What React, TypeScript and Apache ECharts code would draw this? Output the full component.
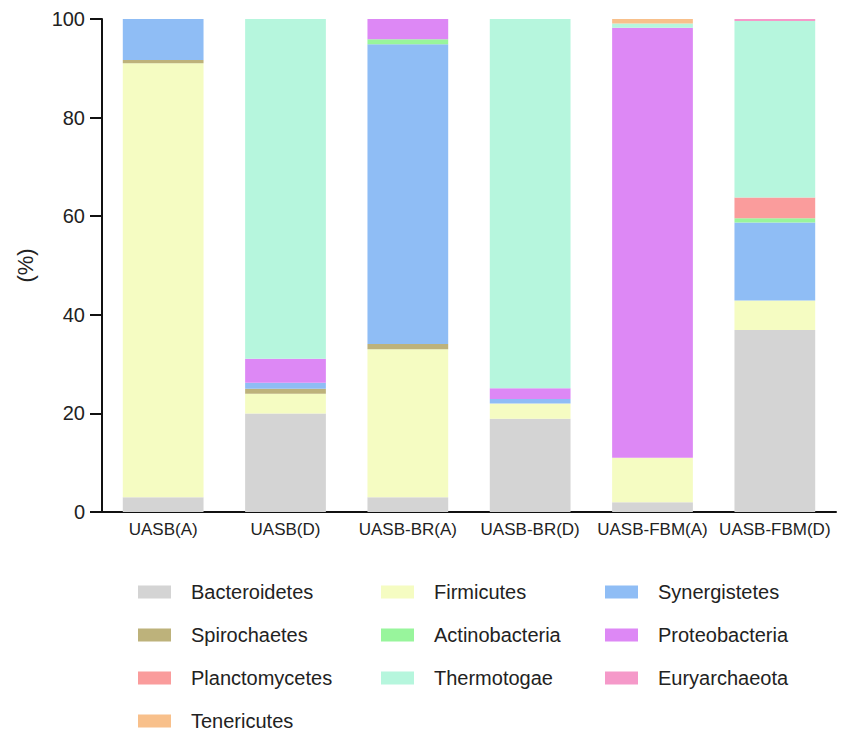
import React, { useEffect, useRef } from "react";
import * as echarts from "echarts";

const categories = ["UASB(A)", "UASB(D)", "UASB-BR(A)", "UASB-BR(D)", "UASB-FBM(A)", "UASB-FBM(D)"];

const bacteroidetes = [3, 20, 3, 18.9, 2, 36.9];
const firmicutes = [88, 4, 30, 3.1, 9, 6];
const spirochaetes = [0.7, 1, 1.1, 0, 0, 0];
const synergistetes = [8.3, 1.2, 60.8, 0.9, 0, 15.8];
const actinobacteria = [0, 0, 1, 0, 0, 0.9];
const planctomycetes = [0, 0, 0, 0, 0, 4.2];
const proteobacteria = [0, 4.9, 4.1, 2.2, 87.2, 0];
const thermotogae = [0, 68.9, 0, 74.9, 0.9, 35.8];
const euryarchaeota = [0, 0, 0, 0, 0, 0.4];
const tenericutes = [0, 0, 0, 0, 0.9, 0];

const yTicks = [0, 20, 40, 60, 80, 100];

const seriesDefs = [
  { name: "Bacteroidetes", data: bacteroidetes, color: "#d4d4d4" },
  { name: "Firmicutes", data: firmicutes, color: "#f5fcc2" },
  { name: "Spirochaetes", data: spirochaetes, color: "#bdb27b" },
  { name: "Synergistetes", data: synergistetes, color: "#8fbdf5" },
  { name: "Actinobacteria", data: actinobacteria, color: "#98f59c" },
  { name: "Planctomycetes", data: planctomycetes, color: "#fa9c9c" },
  { name: "Proteobacteria", data: proteobacteria, color: "#dd88f5" },
  { name: "Thermotogae", data: thermotogae, color: "#b6f6dd" },
  { name: "Euryarchaeota", data: euryarchaeota, color: "#f599c9" },
  { name: "Tenericutes", data: tenericutes, color: "#f8c08b" },
];

const legendCols = [
  ["Bacteroidetes", "Spirochaetes", "Planctomycetes"],
  ["Firmicutes", "Actinobacteria", "Thermotogae"],
  ["Synergistetes", "Proteobacteria", "Euryarchaeota"],
  ["Tenericutes"],
];
const legendLefts = [138, 381, 605, 138];
const legendTops = [582, 582, 582, 711];

export default function App() {
  const ref = useRef<HTMLDivElement>(null);
  useEffect(() => {
    if (!ref.current) return;
    const chart = echarts.init(ref.current, undefined, { renderer: "svg" });
    const font = "Liberation Sans, Arial, sans-serif";
    chart.setOption({
      animation: false,
      backgroundColor: "#ffffff",
      textStyle: { fontFamily: font },
      grid: { left: 102, right: 9, top: 19, bottom: 219, containLabel: false },
      legend: legendCols.map((col, i) => ({
        data: col,
        orient: "vertical",
        left: legendLefts[i],
        top: legendTops[i],
        padding: 0,
        itemWidth: 33,
        itemHeight: 13,
        itemGap: 23,
        icon: "rect",
        textStyle: { fontSize: 20, color: "#222", fontFamily: font, lineHeight: 20, padding: [0, 0, 0, 15] },
      })),
      xAxis: {
        type: "category",
        data: categories,
        axisLine: { lineStyle: { color: "#111", width: 2 } },
        axisTick: { alignWithLabel: true, length: 8, lineStyle: { color: "#111", width: 2 } },
        axisLabel: { color: "#222", fontSize: 17, margin: 9, interval: 0, fontFamily: font },
      },
      yAxis: {
        type: "value",
        min: 0,
        max: 100,
        interval: 20,
        name: "(%)",
        nameLocation: "middle",
        nameGap: 66,
        nameRotate: 90,
        nameTextStyle: { fontSize: 22, color: "#222", fontFamily: font },
        splitLine: { show: false },
        axisLine: { show: true, lineStyle: { color: "#111", width: 2 } },
        axisTick: { show: true, length: 12, lineStyle: { color: "#111", width: 2 } },
        axisLabel: {
          color: "#222",
          fontSize: 20,
          margin: 17,
          fontFamily: font,
          formatter: (v: number) => (yTicks.includes(v) ? String(v) : ""),
        },
      },
      series: seriesDefs.map((s) => ({
        name: s.name,
        type: "bar",
        stack: "total",
        data: s.data,
        barWidth: "66%",
        itemStyle: { color: s.color },
        emphasis: { disabled: true },
      })),
    });
    return () => chart.dispose();
  }, []);
  return <div ref={ref} style={{ position: "fixed", left: 0, top: 0, width: 845, height: 731 }} />;
}
